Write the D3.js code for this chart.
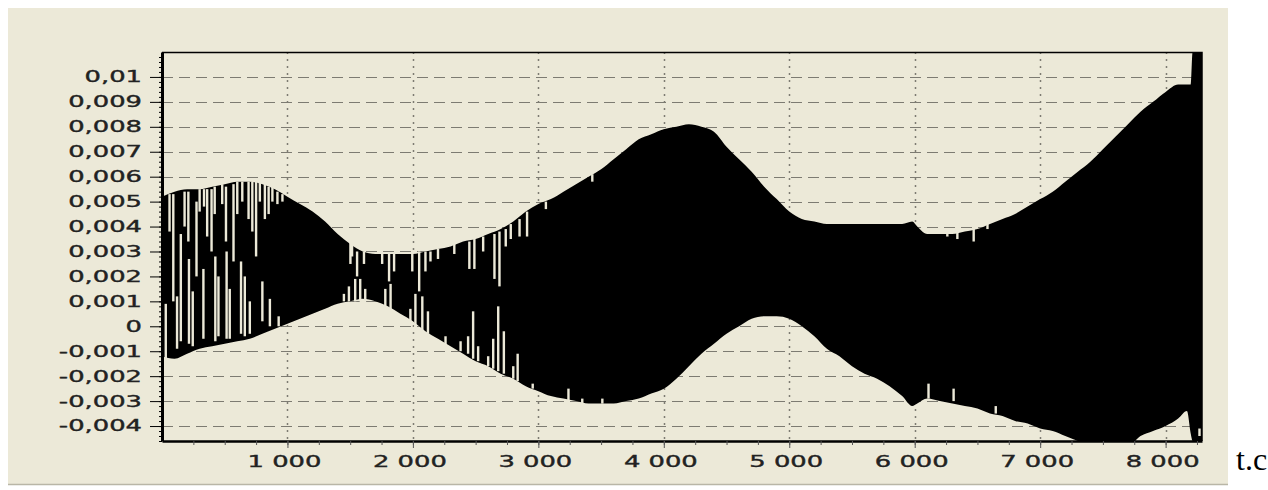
<!DOCTYPE html>
<html>
<head>
<meta charset="utf-8">
<script src="https://cdn.jsdelivr.net/npm/d3@7/dist/d3.min.js"></script>
<style>
    body { margin: 0; background: #fff; }
    svg { display: block; }
</style>
</head>
<body>
<div id="chart"></div>
<script>
const width = 1268;
const height = 490;

// outer envelope of the oscillating signal
const envX = [0, 100, 200, 300, 400, 500, 600, 700, 800, 900,
    1000, 1100, 1200, 1300, 1400, 1500, 1600, 1700, 1800, 1900,
    2000, 2100, 2200, 2300, 2400, 2500, 2600, 2700, 2800, 2900,
    3000, 3100, 3200, 3300, 3400, 3500, 3600, 3700, 3800, 3900,
    4000, 4100, 4200, 4300, 4400, 4500, 4600, 4700, 4800, 4900,
    5000, 5100, 5200, 5300, 5400, 5500, 5600, 5700, 5800, 5900,
    5980, 6020, 6100, 6200, 6300, 6400, 6500, 6600, 6700, 6800, 6900,
    7000, 7100, 7200, 7300, 7400, 7500, 7600, 7700, 7800, 7900,
    8000, 8100, 8170, 8200, 8215, 8300];
const envHi = [0.0052, 0.0054, 0.0055, 0.0055, 0.0056, 0.0057, 0.0058, 0.0058, 0.0057, 0.0055,
    0.0052, 0.0049, 0.0046, 0.0042, 0.0037, 0.0033, 0.0030, 0.0029, 0.0029, 0.0029,
    0.0029, 0.0030, 0.0031, 0.0032, 0.0034, 0.0035, 0.0037, 0.0039, 0.0042, 0.0046,
    0.0049, 0.0051, 0.0054, 0.0057, 0.0060, 0.0063, 0.0067, 0.0071, 0.0075, 0.0077,
    0.0079, 0.0080, 0.0081, 0.0080, 0.0078, 0.0072, 0.0067, 0.0062, 0.0056, 0.0051,
    0.0046, 0.0043, 0.0042, 0.0041, 0.0041, 0.0041, 0.0041, 0.0041, 0.0041, 0.0041,
    0.0042, 0.0040, 0.0037, 0.0037, 0.0037, 0.0038, 0.0039, 0.0041, 0.0043, 0.0045, 0.0048,
    0.0051, 0.0054, 0.0058, 0.0062, 0.0066, 0.0071, 0.0076, 0.0081, 0.0086, 0.0090,
    0.0094, 0.0097, 0.0097, 0.0097, 0.0110, 0.0110];
const envLo = [-0.0012, -0.0013, -0.0011, -0.0009, -0.0008, -0.0007, -0.0006, -0.0005, -0.0003, -0.0001,
    0.0001, 0.0003, 0.0005, 0.0007, 0.0009, 0.0010, 0.0011, 0.0010, 0.0008, 0.0005,
    0.0002, -0.0002, -0.0005, -0.0008, -0.0011, -0.0014, -0.0016, -0.0019, -0.0021, -0.0024,
    -0.0026, -0.0028, -0.0029, -0.0030, -0.0031, -0.0031, -0.0031, -0.0030, -0.0029, -0.0027,
    -0.0025, -0.0021, -0.0016, -0.0011, -0.0007, -0.0003, 0.0000, 0.0003, 0.0004, 0.0004,
    0.0003, 0.0000, -0.0004, -0.0009, -0.0012, -0.0016, -0.0019, -0.0021, -0.0024, -0.0028,
    -0.0032, -0.0031, -0.0029, -0.0030, -0.0031, -0.0032, -0.0033, -0.0035, -0.0036, -0.0038, -0.0039,
    -0.0041, -0.0042, -0.0044, -0.0046, -0.0048, -0.0048, -0.0048, -0.0048, -0.0044, -0.0042,
    -0.0040, -0.0037, -0.0034, -0.0043, -0.0046, -0.0046];

// white gaps left between the drawn oscillations (x, top, bottom)
const gapX = [30, 60, 90, 120, 150, 180, 210, 215, 245, 275, 300, 330, 335, 360, 395, 420, 425, 450, 480, 510, 515, 540,
    570, 600, 630, 640, 660, 690, 700, 720, 750, 780, 800, 820, 850, 860, 880, 920, 930, 960,
    1450, 1490, 1502, 1515, 1540, 1555, 1580, 1610, 1620, 1755, 1780, 1810, 1822, 1850, 1980, 1995, 2020, 2050, 2075, 2100, 2120, 2140,
    2200, 2260, 2330, 2380, 2440, 2450, 2480, 2490, 2520, 2560, 2600, 2640, 2650, 2680, 2690, 2725, 2740, 2780, 2800,
    2835, 2850, 2910, 2955, 3060, 3240, 3350, 3430, 3510,
    6110, 6260, 6310, 6340, 6470, 6580, 6646, 8270];
const gapHi = [0.0009, 0.0053, 0.0053, 0.0012, 0.0037, 0.0054, 0.0054, 0.0027, 0.0014, 0.0050, 0.0055, 0.0023, 0.0055, 0.0055, 0.0055, 0.0056, 0.0028, 0.0020, 0.0057, 0.0056, 0.0030, 0.0015,
    0.0057, 0.0058, 0.0026, 0.0058, 0.0020, 0.0058, 0.0010, 0.0058, 0.0058, 0.0058, 0.0018, 0.0057, 0.0056, 0.0011, 0.0056, 0.0054, 0.0004, 0.0053,
    0.0013, 0.0016, 0.0034, 0.0033, 0.0019, 0.0030, 0.0019, 0.0030, 0.0015, 0.0029, 0.0015, 0.0029, 0.0017, 0.0029, 0.0007, 0.0030, 0.0013, 0.0030, 0.0012, 0.0030, 0.0006, 0.0030,
    0.0031, -0.0004, 0.0033, -0.0006, -0.0004, 0.0034, 0.0006, 0.0035, -0.0008, 0.0036, -0.0012, -0.0005, 0.0037, 0.0008, 0.0038, -0.0002, 0.0039, 0.0041, -0.0016,
    -0.0011, 0.0043, 0.0046, -0.0023, 0.0050, -0.0025, -0.0029, 0.0061, -0.0029,
    -0.0023, 0.0037, -0.0025, 0.0038, 0.0040, 0.0042, -0.0032, -0.0041];
const gapLo = [-0.0013, 0.0038, 0.0010, -0.0009, -0.0006, 0.0040, 0.0034, -0.0007, -0.0008, 0.0020, 0.0046, -0.0005, 0.0048, 0.0036, 0.0030, 0.0045, -0.0006, -0.0004, 0.0049, 0.0034, -0.0005, -0.0005,
    0.0026, 0.0045, -0.0003, 0.0050, -0.0004, 0.0043, -0.0003, 0.0038, 0.0028, 0.0050, 0.0002, 0.0043, 0.0045, 0.0000, 0.0050, 0.0049, 0.0000, 0.0050,
    0.0010, 0.0010, 0.0025, 0.0028, 0.0010, 0.0020, 0.0010, 0.0025, 0.0010, 0.0025, 0.0007, 0.0018, 0.0006, 0.0022, 0.0002, 0.0022, -0.0001, 0.0014, -0.0003, 0.0022, -0.0003, 0.0026,
    0.0027, -0.0008, 0.0029, -0.0010, -0.0011, 0.0023, -0.0013, 0.0023, -0.0014, 0.0030, -0.0016, -0.0017, 0.0019, -0.0018, 0.0016, -0.0019, 0.0032, 0.0035, -0.0021,
    -0.0022, 0.0036, 0.0036, -0.0025, 0.0047, -0.0030, -0.0031, 0.0058, -0.0031,
    -0.0029, 0.0036, -0.0030, 0.0035, 0.0034, 0.0039, -0.0035, -0.0044];

const xTicks = [1000, 2000, 3000, 4000, 5000, 6000, 7000, 8000];
const yTicks = [-0.004, -0.003, -0.002, -0.001, 0, 0.001, 0.002, 0.003, 0.004, 0.005, 0.006, 0.007, 0.008, 0.009, 0.01];

const panelColor = "#ECE9D8";

const locale = d3.formatLocale({
    decimal: ",",
    thousands: "\u00a0",
    grouping: [3],
    currency: ["", ""],
    minus: "-"
});
const xFormat = locale.format(",d");
const yFormat = locale.format("~g");

const plot = { left: 162, right: 1202, top: 52, bottom: 441 };

const x = d3.scaleLinear().domain([0, 8290]).range([plot.left, plot.right]);
const y = d3.scaleLinear().domain([-0.0046, 0.011]).range([plot.bottom, plot.top]);

const svg = d3.select('#chart')
    .append("svg")
    .attr('width', width)
    .attr('height', height);

// window panel
svg.append("rect")
    .attr("x", 8).attr("y", 8)
    .attr("width", 1220).attr("height", 477)
    .attr("fill", panelColor);
svg.append("line")
    .attr("x1", 8).attr("x2", 1228)
    .attr("y1", 484.5).attr("y2", 484.5)
    .attr("stroke", "#b9b6a6")
    .attr("stroke-width", 1.5);

svg.append("defs").append("clipPath")
    .attr("id", "clip")
    .append("rect")
    .attr("x", plot.left).attr("y", plot.top)
    .attr("width", plot.right - plot.left)
    .attr("height", plot.bottom - plot.top);

// grid
const grid = svg.append("g").attr("class", "grid");
grid.selectAll(".hgrid")
    .data(yTicks)
    .enter()
    .append("line")
    .attr("x1", plot.left).attr("x2", plot.right)
    .attr("y1", d => Math.round(y(d)) + 0.5)
    .attr("y2", d => Math.round(y(d)) + 0.5)
    .attr("stroke", "#7d7b72")
    .attr("stroke-width", 1.2)
    .attr("stroke-dasharray", "11,6");
grid.selectAll(".vgrid")
    .data(xTicks)
    .enter()
    .append("line")
    .attr("x1", d => Math.round(x(d)) + 0.5)
    .attr("x2", d => Math.round(x(d)) + 0.5)
    .attr("y1", plot.top).attr("y2", plot.bottom)
    .attr("stroke", "#7d7b72")
    .attr("stroke-width", 1.5)
    .attr("stroke-dasharray", "2,5");

// signal
const area = d3.area()
    .curve(d3.curveMonotoneX)
    .x(i => x(envX[i]))
    .y0(i => y(envLo[i]))
    .y1(i => y(envHi[i]));

const sig = svg.append("g").attr("clip-path", "url(#clip)");
sig.append("path")
    .datum(d3.range(envX.length))
    .attr("d", area)
    .attr("fill", "#000");

sig.selectAll(".gap")
    .data(d3.range(gapX.length))
    .enter()
    .append("rect")
    .attr("class", "gap")
    .attr("x", i => x(gapX[i]) - 1.2)
    .attr("width", 2.4)
    .attr("y", i => y(gapHi[i]))
    .attr("height", i => y(gapLo[i]) - y(gapHi[i]))
    .attr("fill", panelColor);

// frame
svg.append("path")
    .attr("d", `M${plot.left},${plot.top + 0.5}H${plot.right}V${plot.bottom}`)
    .attr("fill", "none")
    .attr("stroke", "#000")
    .attr("stroke-width", 1.5);

// axes
const yMinor = d3.range(-0.0046, 0.011, 0.0002);
svg.append("g")
    .attr("transform", `translate(${plot.left},0)`)
    .call(d3.axisLeft(y).tickValues(yMinor).tickSize(3).tickSizeOuter(0).tickFormat(""))
    .call(g => g.select(".domain").attr("stroke-width", 3));
svg.append("g")
    .attr("transform", `translate(${plot.left},0)`)
    .call(d3.axisLeft(y).tickValues(yTicks).tickSize(12).tickSizeOuter(0).tickFormat(""))
    .call(g => g.select(".domain").remove());

const xMinor = d3.range(250, 8290, 250);
svg.append("g")
    .attr("transform", `translate(0,${plot.bottom})`)
    .call(d3.axisBottom(x).tickValues(xMinor).tickSize(4).tickSizeOuter(0).tickFormat(""))
    .call(g => g.select(".domain").attr("stroke-width", 2.5))
    .call(g => g.selectAll(".tick line").attr("stroke", "#555"));
svg.append("g")
    .attr("transform", `translate(0,${plot.bottom})`)
    .call(d3.axisBottom(x).tickValues(xTicks).tickSize(7).tickSizeOuter(0).tickFormat(""))
    .call(g => g.select(".domain").remove())
    .call(g => g.selectAll(".tick line").attr("stroke", "#555"));

// labels, drawn wide like the stretched original
svg.selectAll(".ylab")
    .data(yTicks)
    .enter()
    .append("text")
    .attr("class", "ylab")
    .attr("transform", d => `translate(142,${y(d)}) scale(1.72,1)`)
    .attr("dy", "0.36em")
    .attr("text-anchor", "end")
    .style("font-family", "DejaVu Sans")
    .style("font-size", "15px")
    .style("fill", "#222")
    .style("stroke", "#222")
    .style("stroke-width", 0.35)
    .text(yFormat);

svg.selectAll(".xlab")
    .data(xTicks)
    .enter()
    .append("text")
    .attr("class", "xlab")
    .attr("transform", d => `translate(${x(d) - 3},467) scale(1.72,1)`)
    .attr("text-anchor", "middle")
    .style("font-family", "DejaVu Sans")
    .style("font-size", "15px")
    .style("fill", "#222")
    .style("stroke", "#222")
    .style("stroke-width", 0.35)
    .text(xFormat);

svg.append("text")
    .attr("x", 1236)
    .attr("y", 470)
    .style("font-family", "Liberation Serif")
    .style("font-size", "32px")
    .style("fill", "#000")
    .text("t.c");
</script>
</body>
</html>
